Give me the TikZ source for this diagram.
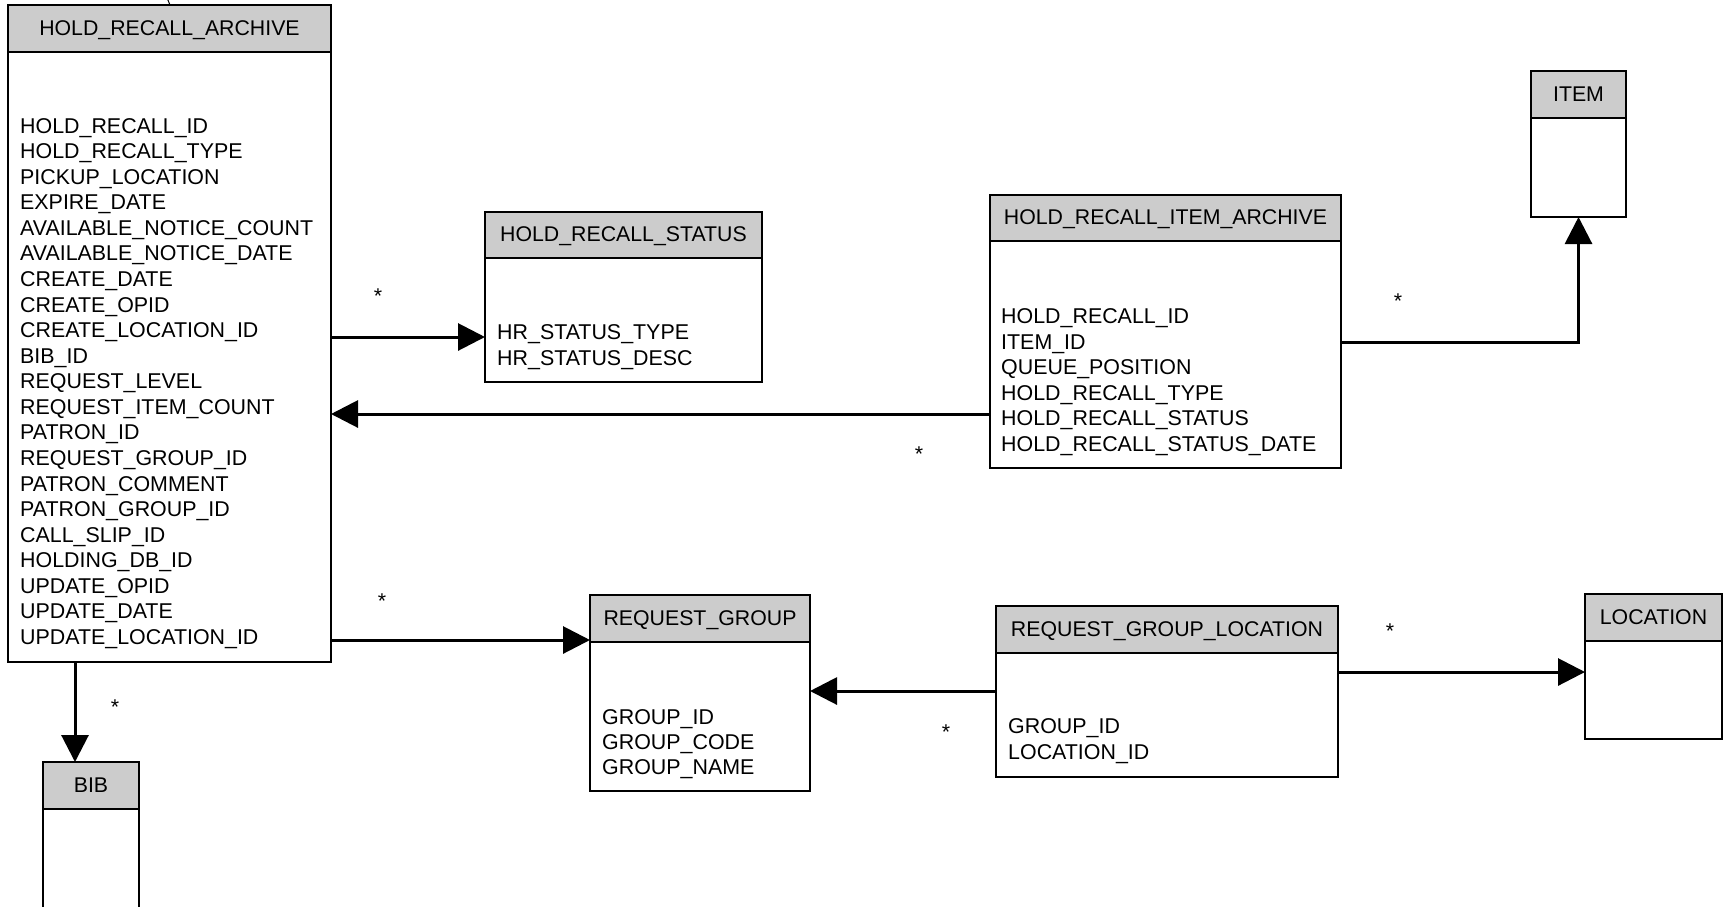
\documentclass[tikz,border=0pt]{standalone}
\usepackage{fontspec}
\setmainfont{Liberation Sans}
\usetikzlibrary{arrows.meta,calc}
\definecolor{hdrgray}{HTML}{CCCCCC}
\tikzset{
  ebox/.style={draw=black, line width=2pt, fill=white, rectangle, inner sep=0pt, outer sep=0pt},
  hdrbox/.style={draw=black, line width=2pt, fill=hdrgray},
  ttl/.style={inner sep=0pt, anchor=base, font=\fontsize{21.3}{25}\selectfont},
  attr/.style={inner sep=0pt, anchor=base west, font=\fontsize{21.4}{25}\selectfont},
  mult/.style={inner sep=0pt, anchor=base, font=\fontsize{21.4}{25}\selectfont},
  conn/.style={draw=black, line width=3pt, -{Triangle[length=27pt,width=27pt]}},
}
\newcommand{\entity}[7]{%
  \node[ebox, minimum width={#4-#2}, minimum height={#5-#3}, anchor=north west] (#1) at (#2,#3) {};
  \draw[hdrbox] (#1.north west) rectangle ($(#1.north east)+(0,#6-#3)$);
  \node[ttl] (#1-title) at ({(#2+#4)/2},{(#3+#6)/2+6.5}) {#7};
}
\begin{document}
\begin{tikzpicture}[x=1pt,y=-1pt]
\useasboundingbox (0,0) rectangle (1726,906);

% entities
\entity{hra}{8}{5}{331}{662}{52}{HOLD\_RECALL\_ARCHIVE}
\entity{hrs}{485}{212}{762}{382}{258}{HOLD\_RECALL\_STATUS}
\entity{hria}{990}{195}{1341}{468}{241}{HOLD\_RECALL\_ITEM\_ARCHIVE}
\entity{item}{1531}{71}{1626}{217}{118}{ITEM}
\entity{rg}{590}{595}{810}{791}{642}{REQUEST\_GROUP}
\entity{rgl}{996}{606}{1338}{777}{653}{REQUEST\_GROUP\_LOCATION}
\entity{loc}{1585}{594}{1722}{739}{641}{LOCATION}
\entity{bib}{43}{762}{139}{914}{809}{BIB}

% attributes
\foreach \t [count=\i from 0] in {HOLD\_RECALL\_ID, HOLD\_RECALL\_TYPE, PICKUP\_LOCATION, EXPIRE\_DATE, AVAILABLE\_NOTICE\_COUNT, AVAILABLE\_NOTICE\_DATE, CREATE\_DATE, CREATE\_OPID, CREATE\_LOCATION\_ID, BIB\_ID, REQUEST\_LEVEL, REQUEST\_ITEM\_COUNT, PATRON\_ID, REQUEST\_GROUP\_ID, PATRON\_COMMENT, PATRON\_GROUP\_ID, CALL\_SLIP\_ID, HOLDING\_DB\_ID, UPDATE\_OPID, UPDATE\_DATE, UPDATE\_LOCATION\_ID}
  \node[attr] (hra-a\i) at (20,{133+\i*25.575}) {\t};
\foreach \t [count=\i from 0] in {HR\_STATUS\_TYPE, HR\_STATUS\_DESC}
  \node[attr] (hrs-a\i) at (497,{339.5+\i*26}) {\t};
\foreach \t [count=\i from 0] in {HOLD\_RECALL\_ID, ITEM\_ID, QUEUE\_POSITION, HOLD\_RECALL\_TYPE, HOLD\_RECALL\_STATUS, HOLD\_RECALL\_STATUS\_DATE}
  \node[attr] (hria-a\i) at (1001,{323.5+\i*25.5}) {\t};
\foreach \t [count=\i from 0] in {GROUP\_ID, GROUP\_CODE, GROUP\_NAME}
  \node[attr] (rg-a\i) at (602,{724.5+\i*25}) {\t};
\foreach \t [count=\i from 0] in {GROUP\_ID, LOCATION\_ID}
  \node[attr] (rgl-a\i) at (1008,{733.5+\i*26}) {\t};

% connector helper coordinates
\coordinate (r337) at (0,337);
\coordinate (r414) at (0,414);
\coordinate (r342) at (0,342);
\coordinate (r640) at (0,640);
\coordinate (r691) at (0,691);
\coordinate (r672) at (0,672);
\coordinate (c75) at (75,0);

% connectors
\draw[conn] (hra.east |- r337) -- (hrs.west |- r337);
\draw[conn] (hria.west |- r414) -- (hra.east |- r414);
\draw[conn] (hria.east |- r342) -| (item.south);
\draw[conn] (hra.east |- r640) -- (rg.west |- r640);
\draw[conn] (c75 |- hra.south) -- (c75 |- bib.north);
\draw[conn] (rgl.west |- r691) -- (rg.east |- r691);
\draw[conn] (rgl.east |- r672) -- (loc.west |- r672);

% small stub at top
\coordinate (stub) at (167.5,-1);
\draw[line width=1pt] (stub) -- (170,5);

% multiplicities
\node[mult] (m1) at (378,303) {*};
\node[mult] (m2) at (919,461) {*};
\node[mult] (m3) at (1398,308) {*};
\node[mult] (m4) at (382,608) {*};
\node[mult] (m5) at (115,714) {*};
\node[mult] (m6) at (946,739) {*};
\node[mult] (m7) at (1390,638) {*};
\end{tikzpicture}
\end{document}
